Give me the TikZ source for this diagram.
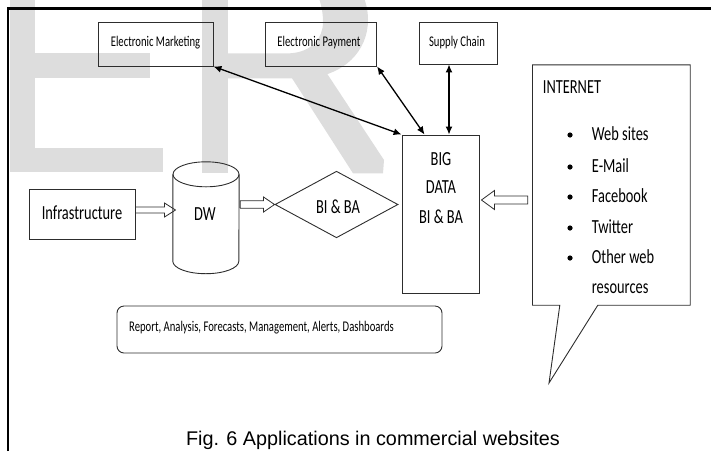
\documentclass[tikz,border=0pt]{standalone}
\usepackage{fontspec}
\setmainfont{Carlito}[FakeStretch=0.72]
\newfontfamily\capfont{Liberation Sans}
\usetikzlibrary{arrows.meta,calc,shapes.geometric}
\definecolor{wm}{RGB}{221,221,221}
\definecolor{ln}{RGB}{45,45,45}
\newcommand\hollowarrow[5]{%
  \draw[hollow] let \p1=(#1), \p2=(#2), \n1={sign(\x2-\x1)} in
    (\x1,\y1+#3pt) -- (\x2-\n1*#5pt,\y1+#3pt) -- (\x2-\n1*#5pt,\y1+#4pt) -- (\x2,\y1)
    -- (\x2-\n1*#5pt,\y1-#4pt) -- (\x2-\n1*#5pt,\y1-#3pt) -- (\x1,\y1-#3pt) -- cycle;}
\begin{document}
\begin{tikzpicture}[x=1pt,y=-1pt,
  box/.style={draw=ln,line width=0.9pt,inner sep=0pt},
  lbl/.style={anchor=base,inner sep=0pt},
  lblw/.style={anchor=base west,inner sep=0pt},
  small/.style={font=\fontsize{14.8}{16}\selectfont},
  big/.style={font=\fontsize{20}{24}\selectfont},
  link/.style={line width=1.3pt,{Latex[length=8pt,width=7pt]}-{Latex[length=8pt,width=7pt]}},
  hollow/.style={draw=ln,line width=0.8pt,line join=miter},
  bullet/.style={circle,fill=black,inner sep=0pt,minimum size=5.2pt}]
\useasboundingbox (0,0) rectangle (711,451);
% watermark
\begin{scope}
\clip (0,0) rectangle (711,451);
\fill[wm] (10,-5) rectangle (35,172);
\fill[wm] (35,53.3) rectangle (150,78.3);
\fill[wm] (35,148.3) rectangle (163.3,171.7);
\fill[wm] (202,-5) rectangle (228,173.3);
\fill[wm,even odd rule] (227,78.3) -- (305,78.3) .. controls (345,76) and (368,50) .. (368,20) .. controls (368,10) and (366,3) .. (363,-5) -- (227,-5) -- cycle
  (227,53.3) -- (290,53.3) .. controls (312,52) and (323,38) .. (323,22) .. controls (323,12) and (321,4) .. (318,-5) -- (227,-5) -- cycle;
\fill[wm] (288,72) -- (326,72) -- (384,160) -- (383,173.3) -- (353,173.3) -- cycle;
\end{scope}
% frame
\draw[line width=2.7pt] (8,451) -- (8,8.7) -- (711,8.7);
% top boxes
\node[box,minimum width=115pt,minimum height=44pt] (em) at (155.5,44) {};
\node[lbl,small] (emt) at (155.5,46) {Electronic Marketing};
\node[box,minimum width=111.7pt,minimum height=44pt] (ep) at (320.8,44) {};
\node[lbl,small] (ept) at (319,46) {Electronic Payment};
\node[box,minimum width=78pt,minimum height=42pt] (sc) at (458,43) {};
\node[lbl,small] (sct) at (457,46) {Supply Chain};
% infrastructure
\node[box,minimum width=106pt,minimum height=50pt] (infra) at (82,214) {};
\node[lbl,big] (infrat) at (82,219) {Infrastructure};
% DW cylinder
\node[inner sep=0pt,minimum width=66pt,minimum height=111.5pt] (dw) at (206,217.75) {};
\draw[ln,line width=0.9pt] ($(dw.north)+(0,12.5)$) ellipse [x radius=33pt,y radius=12.5pt];
\draw[ln,line width=0.9pt] ($(dw.north west)+(0,12.5)$) -- ($(dw.south west)+(0,-12.5)$)
  arc[start angle=180,end angle=360,x radius=33pt,y radius=12.5pt] -- ($(dw.north east)+(0,12.5)$);
\node[lbl,big] (dwt) at (205,220) {DW};
% diamond
\node[draw=ln,line width=0.9pt,diamond,inner sep=0pt,minimum width=123pt,minimum height=66.6pt] (bi) at (336.5,204.5) {};
\node[lbl,big] (bit) at (338,213) {BI \& BA};
% big data
\node[box,minimum width=77pt,minimum height=158pt] (big) at (440.5,214) {};
\node[lbl,big] (bigt1) at (441,165) {BIG};
\node[lbl,big] (bigt2) at (441,193.3) {DATA};
\node[lbl,big] (bigt3) at (441,223.3) {BI \& BA};
% internet callout
\node[inner sep=0pt,minimum width=157.3pt,minimum height=240pt] (inet) at (611.35,185) {};
\coordinate (tip) at (549,383);
\draw[ln,line width=0.9pt,line join=miter] (inet.north west) -- (inet.north east) -- (inet.south east)
  -- ($(inet.south west)+(65.3,0)$) -- (tip) -- ($(inet.south west)+(27.3,0)$) -- (inet.south west) -- cycle;
\node[lblw,big] (intt) at (542.7,93) {INTERNET};
\node[bullet] (b1) at (570,135) {};
\node[bullet] (b2) at (570,167) {};
\node[bullet] (b3) at (570,197) {};
\node[bullet] (b4) at (570,228) {};
\node[bullet] (b5) at (570,258) {};
\node[lblw,big] (w1) at (591.7,140) {Web sites};
\node[lblw,big] (w2) at (591.7,172) {E-Mail};
\node[lblw,big] (w3) at (591.7,202) {Facebook};
\node[lblw,big] (w4) at (591.7,233) {Twitter};
\node[lblw,big] (w5) at (591.7,263) {Other web};
\node[lblw,big] (w6) at (591.7,293) {resources};
% report box
\node[draw=ln,line width=0.9pt,rounded corners=7pt,inner sep=0pt,minimum width=325pt,minimum height=47pt] (rep) at (279.5,329.5) {};
\node[lblw,small] (rept) at (129,331) {Report, Analysis, Forecasts, Management, Alerts, Dashboards};
% caption
\node[anchor=base,inner sep=0pt,font=\capfont\fontsize{19.8}{22}\selectfont] (cap) at (373,445) {Fig. 6 Applications in commercial websites};
% connectors
\draw[link] (em.south east) -- (big.north west);
\draw[link] (ep.south east) -- ($(big.north west)+(23,0)$);
\draw[link] ($(sc.south)+(-9,0)$) -- ($(big.north)+(8.5,0)$);
% hollow arrows
\coordinate (h1s) at ($(infra.east)+(0,-4)$);
\coordinate (h1t) at ($(dw.west)+(2.7,0)$);
\hollowarrow{h1s}{h1t}{3}{7}{11}
\coordinate (h2s) at ($(dw.east |- bi.west)+(1,0)$);
\coordinate (h2t) at (bi.west);
\hollowarrow{h2s}{h2t}{3.8}{7.5}{11}
\coordinate (h3s) at ($(inet.west)+(-4.7,15)$);
\coordinate (h3t) at ($(big.east)+(2,0)$);
\hollowarrow{h3s}{h3t}{4}{9.5}{13}
\end{tikzpicture}
\end{document}
